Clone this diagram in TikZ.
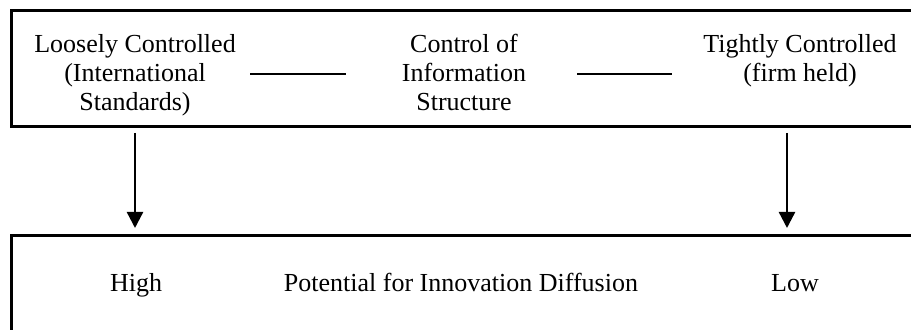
\documentclass[tikz,border=0pt]{standalone}
\usepackage{fontspec}
\setmainfont{Liberation Serif}
\usetikzlibrary{arrows.meta}
\tikzset{
  lbl/.style={inner sep=0pt, anchor=base, font=\fontsize{13}{14.5}\selectfont},
  frame/.style={draw=black, line width=1.5pt, inner sep=0pt, anchor=north west},
  arr/.style={line width=1.2pt, -{Triangle[length=8pt,width=8pt]}},
  dashline/.style={line width=1.2pt}
}
\newcommand{\ctab}[1]{{\setlength{\tabcolsep}{0pt}\begin{tabular}[t]{c}#1\end{tabular}}}
\begin{document}
\begin{tikzpicture}[x=0.5pt,y=-0.5pt]
\useasboundingbox (0,0) rectangle (911,330);
% boxes
\node[frame, minimum width=460pt, minimum height=58pt] (top) at (10,9) {};
\node[frame, minimum width=460pt, minimum height=60pt] (bot) at (10,234) {};
% top texts
\node[lbl] (loose) at (135,53) {\ctab{Loosely Controlled\\(International\\Standards)}};
\node[lbl] (ctrl) at (464,53) {\ctab{Control of\\Information\\Structure}};
\node[lbl] (tight) at (800,53) {\ctab{Tightly Controlled\\(firm held)}};
% dashes
\coordinate (d1a) at (250,74);
\coordinate (d1b) at (346,74);
\coordinate (d2a) at (577,74);
\coordinate (d2b) at (672,74);
\draw[dashline] (d1a) -- (d1b);
\draw[dashline] (d2a) -- (d2b);
% bottom texts
\node[lbl] (high) at (136,292) {High};
\node[lbl] (pot) at (461,292) {Potential for Innovation Diffusion};
\node[lbl] (low) at (795,292) {Low};
% arrows
\coordinate (a1s) at (135,133);
\coordinate (a1e) at (135,228);
\coordinate (a2s) at (787,133);
\coordinate (a2e) at (787,228);
\draw[arr] (a1s) -- (a1e);
\draw[arr] (a2s) -- (a2e);
\end{tikzpicture}
\end{document}
